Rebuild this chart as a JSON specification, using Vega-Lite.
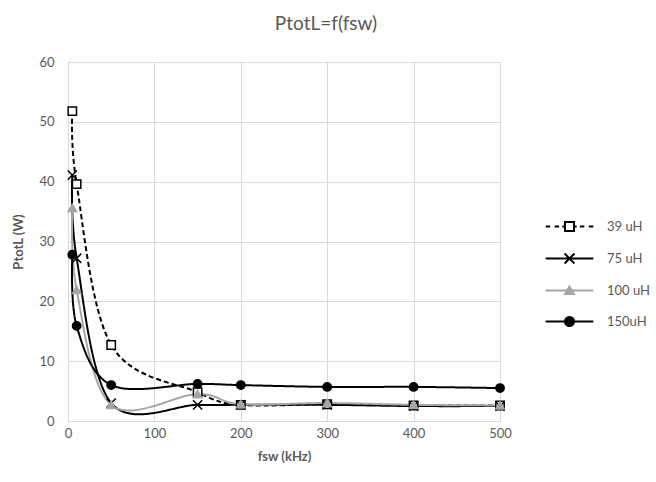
{
  "$schema": "https://vega.github.io/schema/vega-lite/v6.json",
  "autosize": {"type": "none"},
  "padding": {"left": 68, "top": 62, "right": 156, "bottom": 61},
  "width": 432,
  "height": 359,
  "background": "#ffffff",
  "config": {
    "font": "Lato",
    "view": {"stroke": null},
    "axis": {
      "labelColor": "#595959",
      "labelFontSize": 13,
      "titleColor": "#595959",
      "titleFontSize": 13,
      "titleFontWeight": "bold",
      "gridColor": "#d9d9d9",
      "domainColor": "#d9d9d9",
      "ticks": false,
      "labelFlush": false
    },
    "legend": {
      "title": null,
      "orient": "none",
      "legendX": 495,
      "legendY": 158,
      "symbolSize": 81,
      "symbolStrokeWidth": 2,
      "symbolOpacity": 1,
      "labelOffset": 31,
      "rowPadding": 14,
      "labelFontSize": 13,
      "labelColor": "#595959"
    }
  },
  "title": {
    "text": "PtotL=f(fsw)",
    "fontSize": 19,
    "fontWeight": "normal",
    "color": "#595959",
    "anchor": "middle",
    "dx": 42,
    "offset": 22
  },
  "resolve": {
    "scale": {"shape": "independent", "fill": "independent", "color": "independent", "stroke": "independent"},
    "legend": {"shape": "independent", "fill": "independent", "color": "independent", "stroke": "independent", "strokeDash": "independent"}
  },
  "data": {
    "values": [
      {"series": "39 uH", "fsw": 5, "ptot": 51.8},
      {"series": "39 uH", "fsw": 10, "ptot": 39.6},
      {"series": "39 uH", "fsw": 50, "ptot": 12.7},
      {"series": "39 uH", "fsw": 150, "ptot": 4.8},
      {"series": "39 uH", "fsw": 200, "ptot": 2.7},
      {"series": "39 uH", "fsw": 300, "ptot": 2.8},
      {"series": "39 uH", "fsw": 400, "ptot": 2.6},
      {"series": "39 uH", "fsw": 500, "ptot": 2.6},
      {"series": "75 uH", "fsw": 5, "ptot": 41.1},
      {"series": "75 uH", "fsw": 10, "ptot": 27.2},
      {"series": "75 uH", "fsw": 50, "ptot": 3.0},
      {"series": "75 uH", "fsw": 150, "ptot": 2.7},
      {"series": "75 uH", "fsw": 200, "ptot": 2.7},
      {"series": "75 uH", "fsw": 300, "ptot": 2.7},
      {"series": "75 uH", "fsw": 400, "ptot": 2.5},
      {"series": "75 uH", "fsw": 500, "ptot": 2.5},
      {"series": "100 uH", "fsw": 5, "ptot": 35.6},
      {"series": "100 uH", "fsw": 10, "ptot": 21.9},
      {"series": "100 uH", "fsw": 50, "ptot": 2.7},
      {"series": "100 uH", "fsw": 150, "ptot": 4.5},
      {"series": "100 uH", "fsw": 200, "ptot": 2.8},
      {"series": "100 uH", "fsw": 300, "ptot": 3.0},
      {"series": "100 uH", "fsw": 400, "ptot": 2.7},
      {"series": "100 uH", "fsw": 500, "ptot": 2.6},
      {"series": "150uH", "fsw": 5, "ptot": 27.8},
      {"series": "150uH", "fsw": 10, "ptot": 15.9},
      {"series": "150uH", "fsw": 50, "ptot": 6.0},
      {"series": "150uH", "fsw": 150, "ptot": 6.2},
      {"series": "150uH", "fsw": 200, "ptot": 6.0},
      {"series": "150uH", "fsw": 300, "ptot": 5.7},
      {"series": "150uH", "fsw": 400, "ptot": 5.7},
      {"series": "150uH", "fsw": 500, "ptot": 5.5}
    ]
  },
  "encoding": {
    "x": {
      "field": "fsw", "type": "quantitative", "title": "fsw (kHz)",
      "scale": {"domain": [0, 500], "nice": false},
      "axis": {"values": [0, 100, 200, 300, 400, 500], "titlePadding": 10, "labelPadding": 6}
    },
    "y": {
      "field": "ptot", "type": "quantitative", "title": "PtotL (W)",
      "scale": {"domain": [0, 60], "nice": false},
      "axis": {"values": [0, 10, 20, 30, 40, 50, 60], "titlePadding": 13, "labelPadding": 14}
    }
  },
  "layer": [
    {
      "mark": {"type": "line", "interpolate": "cardinal", "strokeWidth": 2},
      "encoding": {
        "color": {
          "field": "series", "type": "nominal",
          "scale": {"domain": ["39 uH", "75 uH", "100 uH", "150uH"], "range": ["#000000", "#000000", "#a5a5a5", "#000000"]},
          "legend": null
        },
        "strokeDash": {
          "field": "series", "type": "nominal",
          "scale": {"domain": ["39 uH", "75 uH", "100 uH", "150uH"], "range": [[5, 3], [1, 0], [1, 0], [1, 0]]},
          "legend": null
        }
      }
    },
    {
      "mark": {"type": "point", "size": 70, "strokeWidth": 1.5, "opacity": 1},
      "encoding": {
        "stroke": {
          "field": "series", "type": "nominal",
          "scale": {"domain": ["39 uH", "75 uH", "100 uH", "150uH"], "range": ["#000000", "#000000", "#a5a5a5", "#000000"]},
          "legend": null
        },
        "shape": {
          "field": "series", "type": "nominal",
          "scale": {"domain": ["39 uH", "75 uH", "100 uH", "150uH"], "range": ["square", "M-1.1,-1.1L1.1,1.1M-1.1,1.1L1.1,-1.1", "triangle-up", "circle"]},
          "legend": null
        },
        "fill": {
          "field": "series", "type": "nominal",
          "scale": {"domain": ["39 uH", "75 uH", "100 uH", "150uH"], "range": ["#ffffff", "transparent", "#a5a5a5", "#000000"]},
          "legend": null
        }
      }
    },
    {
      "transform": [{"filter": "datum.ptot < 0"}],
      "mark": {"type": "point", "size": 81, "strokeWidth": 2, "opacity": 1},
      "encoding": {
        "stroke": {
          "field": "series", "type": "nominal",
          "scale": {"domain": ["39 uH", "75 uH", "100 uH", "150uH"], "range": ["#000000", "#000000", "#a5a5a5", "#000000"]},
          "legend": {}
        },
        "shape": {
          "field": "series", "type": "nominal",
          "scale": {"domain": ["39 uH", "75 uH", "100 uH", "150uH"], "range": ["M-5.3,0H-4.3M-3.3,0H-2.3M-1.6,0H-1M1,0H1.6M2.3,0H3.3M4.3,0H5.3M-1,-1H1V1H-1Z", "M-5.3,0H5.3M-1.1,-1.1L1.1,1.1M-1.1,1.1L1.1,-1.1", "M-5.3,0H5.3M0,-0.9L1,0.8H-1Z", "M-5.3,0H5.3M1,0A1,1,0,1,1,-1,0A1,1,0,1,1,1,0Z"]},
          "legend": {}
        },
        "fill": {
          "field": "series", "type": "nominal",
          "scale": {"domain": ["39 uH", "75 uH", "100 uH", "150uH"], "range": ["#ffffff", "transparent", "#a5a5a5", "#000000"]},
          "legend": {}
        }
      }
    }
  ]
}
